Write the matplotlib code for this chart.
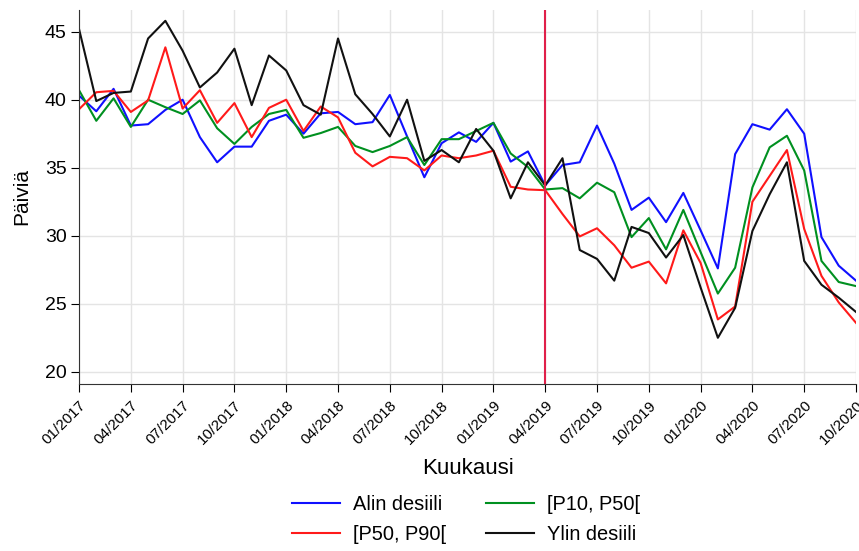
import matplotlib
matplotlib.use("Agg")
import matplotlib.pyplot as plt
import numpy as np

plt.rcParams['font.family'] = ['Liberation Sans', 'DejaVu Sans']

months = [f"{m:02d}/{y}" for y in range(2017, 2021) for m in range(1, 13)][:46]

alin = [40.3, 39.15, 40.8, 38.1, 38.2, 39.25, 40.0, 37.25, 35.4, 36.55, 36.55, 38.45, 38.9, 37.5, 39.0,
        39.1, 38.2, 38.35, 40.35, 37.3, 34.3, 36.8, 37.6, 36.9, 38.3, 35.45, 36.2, 33.7,
        35.2, 35.4, 38.1, 35.3, 31.9, 32.8, 31.0, 33.15, 30.4, 27.6, 36.0, 38.2, 37.8, 39.3,
        37.5, 29.9, 27.8, 26.7]
p10_p50 = [40.7, 38.45, 40.1, 38.0, 40.0, 39.45, 38.95, 39.95, 37.9, 36.75, 38.0, 38.95, 39.25, 37.2, 37.55,
           38.0, 36.6, 36.15, 36.6, 37.25, 35.2, 37.1, 37.1, 37.7, 38.3, 36.05, 35.05, 33.4,
           33.5, 32.75, 33.9, 33.2, 29.9, 31.3, 29.0, 31.9, 28.8, 25.75, 27.65, 33.55, 36.5, 37.35,
           34.8, 28.15, 26.6, 26.3]
p50_p90 = [39.3, 40.55, 40.65, 39.1, 39.95, 43.85, 39.35, 40.7, 38.3, 39.75, 37.25, 39.4, 40.0, 37.7, 39.5,
           38.7, 36.1, 35.1, 35.8, 35.7, 34.8, 35.9, 35.7, 35.9, 36.25, 33.6, 33.4, 33.35,
           31.6, 29.95, 30.55, 29.3, 27.65, 28.1, 26.5, 30.4, 28.0, 23.85, 24.8, 32.5, 34.4, 36.3,
           30.5, 27.05, 25.1, 23.6]
ylin = [45.2, 39.9, 40.5, 40.6, 44.5, 45.8, 43.6, 40.9, 42.0, 43.75, 39.6, 43.25, 42.15, 39.6, 38.9,
        44.5, 40.4, 38.95, 37.3, 40.0, 35.5, 36.3, 35.4, 37.85, 36.25, 32.75, 35.4, 33.7,
        35.7, 28.95, 28.3, 26.7, 30.65, 30.2, 28.4, 30.05, 26.2, 22.5, 24.7, 30.35, 33.05, 35.4,
        28.15, 26.4, 25.45, 24.4]

series = [
    ("Alin desiili", alin, "#1010ff"),
    ("[P50, P90[", p50_p90, "#ff1a1a"),
    ("[P10, P50[", p10_p50, "#009020"),
    ("Ylin desiili", ylin, "#111111"),
]
order = [0, 2, 1, 3]  # drawing order

fig = plt.figure(figsize=(8.59, 5.51), dpi=100)
ax = fig.add_axes([0.092, 0.303, 0.9045, 0.679])

x = np.arange(len(months))
lines = {}
for idx in order:
    name, vals, col = series[idx]
    lines[idx], = ax.plot(x, vals, color=col, lw=1.5, label=name)

ax.axvline(months.index("04/2019"), color="#e0204a", lw=1.5)

ax.set_xlim(0, len(months) - 1)
ax.set_ylim(19.1, 46.6)
ax.set_yticks([20, 25, 30, 35, 40, 45])
ax.set_xticks(x[::3])
ax.set_xticklabels(months[::3], rotation=45, ha="right", rotation_mode="anchor", fontsize=11)
ax.tick_params(axis='y', labelsize=14, length=6, pad=3)
ax.tick_params(axis='x', length=6, pad=4)
ax.grid(True, color="#e4e4e4", lw=1)
ax.set_axisbelow(True)
for s in ["top", "right"]:
    ax.spines[s].set_visible(False)
ax.spines["left"].set_color("#333333")
ax.spines["bottom"].set_color("#333333")
ax.set_ylabel("Päiviä", fontsize=15, labelpad=10)
ax.set_xlabel("Kuukausi", fontsize=16, labelpad=8)

handles = [lines[i] for i in range(4)]
fig.legend(handles, [series[i][0] for i in range(4)], ncol=2, loc="center",
           bbox_to_anchor=(0.543, 0.058), frameon=False, fontsize=14.4,
           handlelength=2.4, handletextpad=0.65, columnspacing=2.0, labelspacing=0.55)

fig.savefig("out.png", dpi=100)
